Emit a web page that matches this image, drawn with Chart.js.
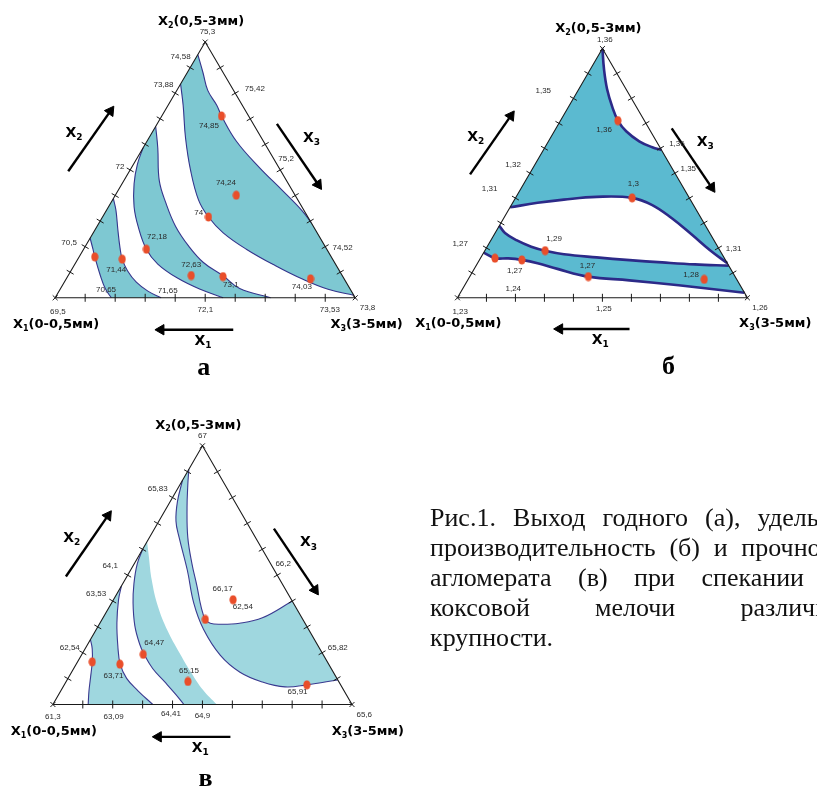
<!DOCTYPE html>
<html>
<head>
<meta charset="utf-8">
<script src="https://cdn.jsdelivr.net/npm/chart.js@4.4.0/dist/chart.umd.min.js"></script>
<style>
  html, body { margin: 0; padding: 0; background: #fff; overflow: hidden; width: 817px; height: 795px; }
  #wrap { position: relative; width: 817px; height: 795px; }
  #wrap canvas { position: absolute; left: 0; top: 0; }
  .caption { position: absolute; left: 430px; top: 503px; width: 426px; color: #111;
    font-family: "Liberation Serif", "Times New Roman", serif; font-size: 26px; line-height: 30px; }
  .caption div { text-align: justify; text-align-last: justify; }
  .caption div.last { text-align-last: left; }
</style>
</head>
<body>
<div id="wrap">
  <canvas id="chart" width="817" height="795"></canvas>
  <div class="caption">
    <div>Рис.1. Выход годного (а), удельная</div>
    <div>производительность (б) и прочность</div>
    <div>агломерата (в) при спекании на</div>
    <div>коксовой мелочи различной</div>
    <div class="last">крупности.</div>
  </div>
</div>
<script>
// all points are compositions in %: [x2, x3], x1 = 100 - x2 - x3

// --- (а) выход годного
const aBand1Left = [[23.3, 0], [19, 3.1], [16, 5.2], [8.7, 10.7], [3.6, 14.9], [0, 18.7]];
const aBand1Right = [[38.8, 0], [34.3, 3.1], [26.6, 7.6], [19.6, 11.8], [15.1, 14.8], [10.6, 18.8], [6.1, 24], [2.6, 29.6], [0, 35.3]];
const aBand2Left = [[58.6, 0], [52.2, 1.3], [44.6, 4], [35.6, 8.5], [27.9, 13.7], [19, 20.9], [13.2, 27.6], [7.7, 36.9], [3.3, 46.7], [0, 56]];
const aBand2Right = [[67, 0], [58.6, 4.9], [45.8, 11.8], [36.9, 18.5], [27.9, 26.2], [20.2, 34.4], [13.8, 42.5], [8.5, 51.8], [3.6, 59.7], [0, 71.8]];
const aBand3Left = [[83.6, 0], [75.3, 5], [62.5, 12.2], [49.7, 20.3], [38.2, 28.7], [31.6, 35.3], [25.4, 43.3], [19, 54.2], [12.5, 67.2], [7.4, 78.5], [3.3, 89.3], [1, 99]];
const aBand3Right = [[95.1, 0], [88.1, 5.2], [81.1, 10.3], [75.3, 16.2], [71.1, 19.9], [61.2, 29.8], [51, 42.5], [42, 54.7], [34.1, 65.2], [29.5, 70.5]];
const aDots = [[71.1, 19.9], [40.1, 40.3], [31.6, 35.3], [19, 20.9], [8.7, 41], [8.3, 51.8], [7.4, 81.4], [16, 5.2], [15.1, 14.8]];
const aAxisLabels = [["75,3", 104.1, -1.3], ["74,58", 94.2, -5.3], ["73,88", 83.4, -5.6], ["72", 51.2, -4], ["70,5", 21.5, -6.1],
  ["75,42", 81.9, 25.6], ["75,2", 54.5, 49.7], ["74,52", 19.6, 86],
  ["69,5", -5.4, 3.6], ["72,1", -4.7, 52.4], ["73,53", -4.7, 93.9], ["73,8", -3.8, 106]];
const aValueLabels = [["74,85", 67.3, 17.6], ["74,24", 44.8, 34.5], ["74", 33.3, 31.2], ["72,18", 23.7, 22.1], ["72,63", 12.9, 38.9],
  ["73,1", 4.9, 56.1], ["74,03", 4.2, 80.1], ["71,44", 10.9, 14.9], ["70,65", 3.3, 15.3], ["71,65", 2.6, 36.2]];

// --- (б) удельная производительность
const bCurve1 = [[100, 0], [91.7, 4.7], [83.8, 9.7], [76.6, 15.1], [71.1, 19.8], [66.8, 24.8], [62.8, 31.3], [60.4, 37], [59.3, 40.7]];
const bCurve2 = [[36.3, 0], [38.1, 8.6], [39.4, 17], [40.5, 27.8], [40.1, 40.2], [37.2, 48.6], [31.9, 58], [25.4, 68.1], [19.2, 77.4], [13.9, 86.1]];
const bCurve3 = [[28.9, 0], [26, 3.4], [23.1, 8.8], [20.5, 15.2], [18.9, 20.8], [17.5, 28], [16.2, 39.9], [15.1, 51.8], [14.2, 63.5], [13.4, 75.2], [12.9, 87.1]];
const bCurve4 = [[18.1, 0], [15.9, 5], [15.8, 9.6], [15.2, 14.6], [13.9, 20.7], [11.6, 28.7], [8.5, 40.9], [7, 55.8], [5, 73.8], [2, 98]];
const bDots = [[71.1, 19.8], [40.1, 40.2], [18.9, 20.8], [15.9, 5], [15.2, 14.6], [8.5, 40.9], [7.4, 81.4]];
const bAxisLabels = [["1,36", 103.5, -0.9], ["1,35", 83.2, -12], ["1,32", 53.2, -7.4], ["1,31", 43.8, -10.8], ["1,27", 21.7, -9.9], ["1,24", 3.7, 17.4],
  ["1,36", 61.8, 44.8], ["1,35", 51.6, 53.8], ["1,31", 19.7, 85.4],
  ["1,23", -5.5, 3.7], ["1,25", -4.6, 52.8], ["1,26", -3.9, 106.3]];
const bValueLabels = [["1,36", 67.4, 16.9], ["1,3", 45.7, 37.8], ["1,29", 23.7, 21.5], ["1,27", 10.9, 14.3], ["1,27", 12.9, 38.4], ["1,28", 9.2, 76]];

// --- (в) прочность агломерата
const cCurve1 = [[25.1, 0], [21.5, 2.4], [16.5, 4.9], [10.1, 7.5], [5.1, 9.5], [0, 11.8]];
const cCurve2 = [[45.8, 0], [40.5, 1.7], [31.6, 5.6], [22.8, 10.3], [15.6, 14.7], [10.1, 19.6], [5.3, 25.8], [0, 33.4]];
const cCurve3 = [[60.1, 0], [54.4, 1], [46.8, 3.7], [39.2, 7.2], [30.4, 12.2], [23.4, 17.3], [19.4, 20.8], [13.9, 26.4], [8.9, 32.8], [4, 39], [0, 43.8]];
const cCurve4 = [[63, 0], [57, 3.6], [48.1, 9], [38, 16.1], [28.5, 24.1], [20.3, 32], [12.7, 39.7], [5.7, 47.3], [0, 54.8]];
const cCurve5 = [[90.9, 0], [84.8, 2.7], [75.9, 6.9], [64.6, 12.8], [54.4, 19.3], [45.6, 25.4], [38, 30.5], [32.9, 34.5], [31.4, 36.9], [31, 40.4], [31.4, 46.7], [33.5, 53.3], [39.9, 60]];
const cCurve6 = [[86.7, 0], [78.5, 2.4], [70.9, 5.7], [64.6, 9.9], [51.9, 19], [39.2, 27.5], [29.1, 35.8], [19, 46.5], [12.5, 56.3], [8.7, 65.7], [6.8, 74.2], [7.6, 81.1], [9.5, 90.5]];
const cDots = [[40.5, 40], [32.9, 34.5], [19.4, 20.5], [16.5, 4.9], [15.6, 14.6], [8.9, 40.7], [7.6, 81.1]];
const cAxisLabels = [["67", 103.8, -1.9], ["65,83", 83.3, -6.6], ["64,1", 53.5, -7.6], ["63,53", 42.7, -6.9], ["62,54", 21.9, -5.3],
  ["66,2", 54.4, 49.8], ["65,82", 21.9, 84.3],
  ["61,3", -4.8, 2.4], ["63,09", -4.8, 22.7], ["64,41", -3.5, 41.2], ["64,9", -4.2, 52.1], ["65,6", -3.8, 106]];
const cValueLabels = [["66,17", 44.9, 34.3], ["62,54", 37.6, 44.7], ["64,47", 23.8, 22], ["63,71", 11.1, 14.7], ["65,15", 13.2, 38.9], ["65,91", 4.8, 79.4]];

// общие элементы: деления сторон, стрелки направлений
const tickSteps = [10, 20, 30, 40, 50, 60, 70, 80, 90];
const arrowX2 = [[49.5, -20.4], [73, -18.1]];
const arrowX3 = [[68, 39.9], [44.3, 65.5]];
const arrowX1 = [[-12.5, 65.6], [-12.5, 41.5]];

const panels = [
  { left: [49, 296], right: [354.3, 296], apexY: 35.7,
    fill: "#7ec8d2", curve: "#34348c", curveWidth: 1.1,
    bands: [[aBand1Left, aBand1Right], [aBand2Left, aBand2Right], [aBand3Left, aBand3Right]],
    curves: [aBand1Left, aBand1Right, aBand2Left, aBand2Right, aBand3Left, aBand3Right],
    dots: aDots, axisLabels: aAxisLabels, valueLabels: aValueLabels,
    letter: "а", letterAt: [-30, 64.5], x3TitleAt: [-10.4, 109] },
  { left: [458.3, 296], right: [753.3, 296], apexY: 42.3,
    fill: "#5bbad0", curve: "#2c2a88", curveWidth: 2.6,
    bands: [[bCurve1, bCurve2], [bCurve3, bCurve4]],
    curves: [bCurve1, bCurve2, bCurve3, bCurve4],
    dots: bDots, axisLabels: bAxisLabels, valueLabels: bValueLabels,
    letter: "б", letterAt: [-30.4, 88], x3TitleAt: [-10.4, 114.8] },
  { left: [46.7, 710], right: [351, 710], apexY: 446.7,
    fill: "#9fd7df", curve: "#3a3a90", curveWidth: 1.1,
    bands: [[cCurve1, cCurve2], [cCurve3, cCurve4], [cCurve6, cCurve5]],
    curves: [cCurve1, cCurve2, cCurve3, cCurve5, cCurve6],
    dots: cDots, axisLabels: cAxisLabels, valueLabels: cValueLabels,
    letter: "в", letterAt: [-31.5, 66.8], x3TitleAt: [-10.4, 110.5] },
];

function toXY(p, c) {
  const x2 = c[0] / 100, x3 = c[1] / 100;
  const u = x3 + x2 / 2;
  return { x: p.left[0] + u * (p.right[0] - p.left[0]), y: p.left[1] - x2 * (p.left[1] - p.apexY) };
}

// closed outline: band between two curves, corners doubled so the spline stays sharp there
function region(a, b) {
  const r = b.slice().reverse();
  return [a[0], ...a, a[a.length - 1], r[0], ...r, r[r.length - 1]];
}

const dotImg = document.createElement("canvas");
dotImg.width = 8;
dotImg.height = 10;
const g = dotImg.getContext("2d");
g.fillStyle = "#e94e2a";
g.beginPath();
g.ellipse(4, 5, 3.6, 4.6, 0, 0, Math.PI * 2);
g.fill();

const datasets = [];
panels.forEach((p) => {
  const xy = (c) => toXY(p, c);
  p.bands.forEach(([a, b]) => {
    datasets.push({
      data: region(a, b).map(xy), showLine: true, fill: "shape", tension: 0.4,
      backgroundColor: p.fill, borderColor: "rgba(0,0,0,0)", borderWidth: 0, pointRadius: 0, order: 50,
    });
  });
  p.curves.forEach((cv) => {
    datasets.push({
      data: cv.map(xy), showLine: true, fill: false, tension: 0.4,
      borderColor: p.curve, borderWidth: p.curveWidth, pointRadius: 0, order: 40,
    });
  });
  datasets.push({
    data: [[0, 0], [100, 0], [0, 100], [0, 0]].map(xy), showLine: true, fill: false, tension: 0,
    borderColor: "#1a1a1a", borderWidth: 1.1, pointRadius: 0, order: 30,
  });
  const tickSets = [
    { pts: tickSteps.map((k) => [0, k]), rot: 90 },
    { pts: tickSteps.map((k) => [k, 0]), rot: 30 },
    { pts: tickSteps.map((k) => [k, 100 - k]), rot: -30 },
  ];
  tickSets.forEach((t) => {
    datasets.push({
      data: t.pts.map(xy), showLine: false, pointStyle: "line", pointRotation: t.rot,
      pointRadius: 4, pointBorderColor: "#1a1a1a", pointBorderWidth: 1, order: 20,
    });
  });
  datasets.push({
    data: [[0, 0], [100, 0], [0, 100]].map(xy), showLine: false, pointStyle: "crossRot",
    pointRadius: 3.5, pointBorderColor: "#1a1a1a", pointBorderWidth: 1, order: 20,
  });
  [arrowX2, arrowX3, arrowX1].forEach((ar) => {
    const t = xy(ar[0]), h = xy(ar[1]);
    const rot = (Math.atan2(h.x - t.x, -(h.y - t.y)) * 180) / Math.PI;
    datasets.push({
      data: [t, h], showLine: true, fill: false, tension: 0, borderColor: "#000",
      borderWidth: 2.4, pointRadius: 0, order: 25,
    });
    datasets.push({
      data: [h], showLine: false, pointStyle: "triangle", pointRotation: rot, pointRadius: 6,
      pointBackgroundColor: "#000", pointBorderColor: "#000", pointBorderWidth: 1, order: 24,
    });
  });
  datasets.push({
    data: p.dots.map(xy), showLine: false, pointStyle: dotImg, pointRadius: 4, order: 10,
  });
});

function drawRich(ctx, parts, cx, cy, size) {
  const subSize = Math.round(size * 0.62);
  let w = 0;
  parts.forEach(([txt, sub]) => {
    ctx.font = `bold ${sub ? subSize : size}px "DejaVu Sans", sans-serif`;
    w += ctx.measureText(txt).width;
  });
  let x = cx - w / 2;
  parts.forEach(([txt, sub]) => {
    ctx.font = `bold ${sub ? subSize : size}px "DejaVu Sans", sans-serif`;
    ctx.fillText(txt, x, sub ? cy + size * 0.32 : cy);
    x += ctx.measureText(txt).width;
  });
}

const textPlugin = {
  id: "ternaryText",
  afterDatasetsDraw(chart) {
    const ctx = chart.ctx;
    const sx = chart.scales.x, sy = chart.scales.y;
    ctx.save();
    panels.forEach((p) => {
      const at = (c) => {
        const q = toXY(p, c);
        return [sx.getPixelForValue(q.x), sy.getPixelForValue(q.y)];
      };
      ctx.fillStyle = "#2a2a2a";
      ctx.textAlign = "center";
      ctx.textBaseline = "middle";
      ctx.font = '8px "Liberation Sans", Arial, sans-serif';
      p.axisLabels.concat(p.valueLabels).forEach(([txt, x2, x3]) => {
        const [x, y] = at([x2, x3]);
        ctx.fillText(txt, x, y);
      });
      ctx.fillStyle = "#000";
      ctx.textAlign = "left";
      ctx.textBaseline = "middle";
      let [x, y] = at([108, -5.4]);
      drawRich(ctx, [["X"], ["2", true], ["(0,5-3мм)"]], x, y, 13);
      [x, y] = at([-10.4, 5.5]);
      drawRich(ctx, [["X"], ["1", true], ["(0-0,5мм)"]], x, y, 13);
      [x, y] = at(p.x3TitleAt);
      drawRich(ctx, [["X"], ["3", true], ["(3-5мм)"]], x, y, 13);
      [x, y] = at([64.4, -25.9]);
      drawRich(ctx, [["X"], ["2", true]], x, y, 14);
      [x, y] = at([62.5, 54.2]);
      drawRich(ctx, [["X"], ["3", true]], x, y, 14);
      [x, y] = at([-16.9, 57.7]);
      drawRich(ctx, [["X"], ["1", true]], x, y, 14);
      [x, y] = at(p.letterAt);
      ctx.textAlign = "center";
      ctx.textBaseline = "alphabetic";
      ctx.font = 'bold 26px "Liberation Serif", "Times New Roman", serif';
      ctx.fillText(p.letter, x, y);
    });
    ctx.restore();
  },
};

new Chart(document.getElementById("chart"), {
  type: "line",
  data: { datasets },
  options: {
    responsive: false,
    animation: false,
    devicePixelRatio: 1,
    layout: { padding: 0 },
    plugins: { legend: { display: false }, tooltip: { enabled: false } },
    scales: {
      x: { type: "linear", min: 0, max: 817, display: false },
      y: { type: "linear", min: 0, max: 795, reverse: true, display: false },
    },
  },
  plugins: [textPlugin],
});
</script>
</body>
</html>
